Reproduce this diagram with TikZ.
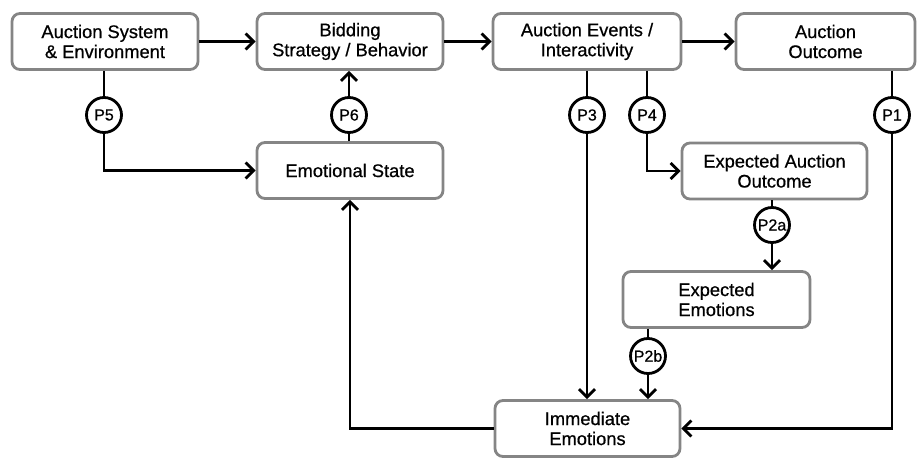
\documentclass[tikz,border=0pt]{standalone}
\usepackage{fontspec}
\setmainfont{Liberation Sans}
\newfontfamily\heavysans{Liberation Sans}[FakeBold=0.6]
\usetikzlibrary{arrows.meta}
\definecolor{ink}{HTML}{000000}
\definecolor{frame}{HTML}{858585}
\newcommand{\boxfont}{\heavysans\fontsize{18.3}{20}\selectfont}
\newcommand{\tagfont}{\heavysans\fontsize{16}{17}\selectfont}
\tikzset{
 every node/.append style={font=\boxfont,text=ink,align=center},
 stage/.style={draw=frame,fill=white,rounded corners=8pt,line width=2.8pt,minimum height=56pt,inner sep=2pt},
 tag/.style={circle,draw=ink,fill=white,line width=2.8pt,minimum size=35pt,inner sep=0pt,font=\tagfont},
 flow/.style={-{Straight Barb[length=8pt,width=16pt,line width=2.8pt]},draw=ink,line width=2.8pt},
 route/.style={draw=ink,line width=2.8pt},
}

\begin{document}
\begin{tikzpicture}[x=1pt,y=-1pt]

\useasboundingbox (0,0) rectangle (917,458);

\node[stage,minimum width=186pt] (system) at (105,41.5) {Auction System\\\& Environment};
\node[stage,minimum width=186pt] (bidding) at (350,41.5) {Bidding\\Strategy / Behavior};
\node[stage,minimum width=188pt] (events) at (587,41.5) {Auction Events /\\Interactivity};
\node[stage,minimum width=179pt] (outcome) at (825.5,41.5) {Auction\\Outcome};
\node[stage,minimum width=186pt] (emostate) at (350,170.5) {Emotional State};
\node[stage,minimum width=185pt] (expoutcome) at (774.5,171) {Expected Auction\\Outcome};
\node[stage,minimum width=187pt] (expemo) at (716.5,299.5) {Expected\\Emotions};
\node[stage,minimum width=185pt] (immemo) at (587.5,428.5) {Immediate\\Emotions};

\node[tag] (p5) at (104,115) {P5};
\node[tag] (p6) at (349,115) {P6};
\node[tag] (p3) at (587,115) {P3};
\node[tag] (p4) at (647,115) {P4};
\node[tag] (p1) at (892,115) {P1};
\node[tag] (p2a) at (772,225) {P2a};
\node[tag] (p2b) at (648,356) {P2b};

% top row
\draw[flow] (system) -- (bidding);
\draw[flow] (bidding) -- (events);
\draw[flow] (events) -- (outcome);

% numbered paths
\draw[route] (system.south -| p5) -- (p5.north);
\draw[flow] (p5.south) |- (emostate.west);
\draw[route] (emostate.north -| p6) -- (p6.south);
\draw[flow] (p6.north) -- (bidding.south -| p6);
\draw[route] (events.south -| p3) -- (p3.north);
\draw[flow] (p3.south) -- (immemo.north -| p3);
\draw[route] (events.south -| p4) -- (p4.north);
\draw[flow] (p4.south) |- (expoutcome.west);
\draw[route] (outcome.south -| p1) -- (p1.north);
\draw[flow] (p1.south) |- (immemo.east);
\draw[route] (expoutcome.south -| p2a) -- (p2a.north);
\draw[flow] (p2a.south) -- (expemo.north -| p2a);
\draw[route] (expemo.south -| p2b) -- (p2b.north);
\draw[flow] (p2b.south) -- (immemo.north -| p2b);

% feedback
\draw[flow] (immemo.west) -| (emostate.south);

\end{tikzpicture}
\end{document}
